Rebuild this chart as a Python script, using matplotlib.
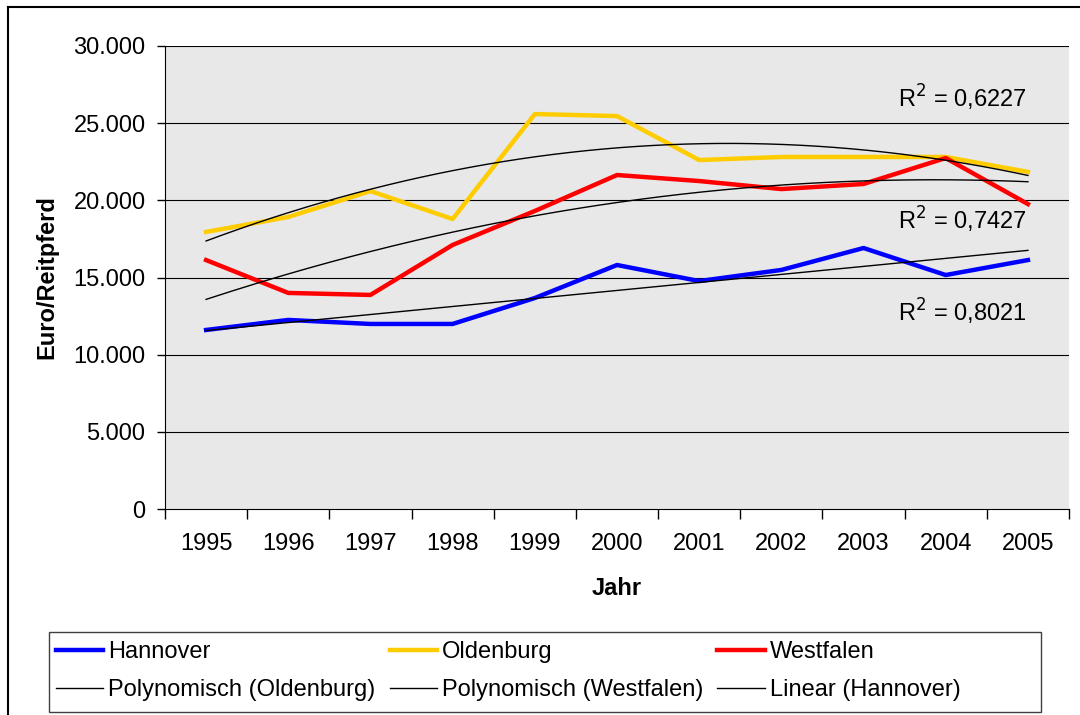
import matplotlib.pyplot as plt
import numpy as np
from matplotlib.lines import Line2D
from matplotlib.patches import Rectangle

years = ['1995', '1996', '1997', '1998', '1999', '2000', '2001', '2002', '2003', '2004', '2005']
hannover = [11600, 12250, 11990, 11990, 13670, 15810, 14770, 15490, 16910, 15160, 16130]
oldenburg = [17950, 18920, 20600, 18790, 25590, 25460, 22610, 22810, 22810, 22810, 21840]
westfalen = [16130, 14000, 13870, 17110, 19310, 21640, 21250, 20730, 21060, 22740, 19760]
r2_labels = ['R$^2$ = 0,6227', 'R$^2$ = 0,7427', 'R$^2$ = 0,8021']
r2_y = [26650, 18750, 12800]
yticks = [0, 5000, 10000, 15000, 20000, 25000, 30000]

plt.rcParams['font.family'] = ['Liberation Sans', 'DejaVu Sans']
fs = 17

fig = plt.figure(figsize=(10.8, 7.15), dpi=100)
ax = fig.add_axes([165 / 1080, 1 - 509 / 715, 904 / 1080, 463 / 715])
ax.set_facecolor('#E8E8E8')

x = np.arange(len(years))
xf = np.linspace(0, len(years) - 1, 200)

# trend lines (like excel)
p_old = np.polyfit(x, oldenburg, 2)
p_west = np.polyfit(x, westfalen, 2)
p_han = np.polyfit(x, hannover, 1)

for y in yticks[1:]:
    ax.axhline(y, color='black', lw=0.8, zorder=1)

ax.plot(x, hannover, color='#0000FF', lw=3.2, zorder=3)
ax.plot(x, oldenburg, color='#FFCC00', lw=3.2, zorder=3)
ax.plot(x, westfalen, color='#FF0000', lw=3.2, zorder=3)
ax.plot(xf, np.polyval(p_old, xf), color='black', lw=1.0, zorder=4)
ax.plot(xf, np.polyval(p_west, xf), color='black', lw=1.0, zorder=4)
ax.plot(xf, np.polyval(p_han, xf), color='black', lw=1.0, zorder=4)

for lab, yy in zip(r2_labels, r2_y):
    ax.text(9.98, yy, lab, ha='right', va='center', fontsize=fs, zorder=5)

ax.set_xlim(-0.5, len(years) - 0.5)
ax.set_ylim(0, 30000)
ax.set_yticks(yticks)
ax.set_yticklabels(['{:,}'.format(v).replace(',', '.') for v in yticks], fontsize=fs)
ax.set_xticks(np.arange(-0.5, len(years), 1.0))
ax.set_xticklabels([])
ax.set_xticks(x, minor=True)
ax.set_xticklabels(years, minor=True, fontsize=fs)
ax.tick_params(axis='x', which='major', length=7, width=1, direction='out')
ax.tick_params(axis='x', which='minor', length=0, pad=17)
ax.tick_params(axis='y', length=6, width=1, pad=8)

ax.spines['top'].set_visible(False)
ax.spines['right'].set_visible(False)

ax.set_ylabel('Euro/Reitpferd', fontsize=fs, fontweight='bold', labelpad=11)
ax.set_xlabel('Jahr', fontsize=fs, fontweight='bold', labelpad=16)

handles = [
    Line2D([], [], color='#0000FF', lw=3.2),
    Line2D([], [], color='black', lw=1.0),
    Line2D([], [], color='#FFCC00', lw=3.2),
    Line2D([], [], color='black', lw=1.0),
    Line2D([], [], color='#FF0000', lw=3.2),
    Line2D([], [], color='black', lw=1.0),
]
labels = ['Hannover', 'Polynomisch (Oldenburg)', 'Oldenburg',
          'Polynomisch (Westfalen)', 'Westfalen', 'Linear (Hannover)']
leg = fig.legend(handles, labels, ncol=3, loc='center left',
                 bbox_to_anchor=(56 / 1080, 1 - 671 / 715),
                 frameon=False, fontsize=17,
                 handlelength=2.0, handletextpad=0.21, columnspacing=0.6,
                 borderpad=0, labelspacing=0.68, borderaxespad=0)

# legend box
fig.add_artist(Rectangle((49 / 1080, 1 - 712 / 715), 992 / 1080, 80 / 715,
                         transform=fig.transFigure, fill=False,
                         edgecolor='#404040', lw=1.0))

# outer chart frame
fig.add_artist(Line2D([8 / 1080, 1], [1 - 7 / 715, 1 - 7 / 715], color='black', lw=1.5))
fig.add_artist(Line2D([8 / 1080, 8 / 1080], [0, 1 - 7 / 715], color='black', lw=1.5))

fig.savefig('out.png', dpi=100)
